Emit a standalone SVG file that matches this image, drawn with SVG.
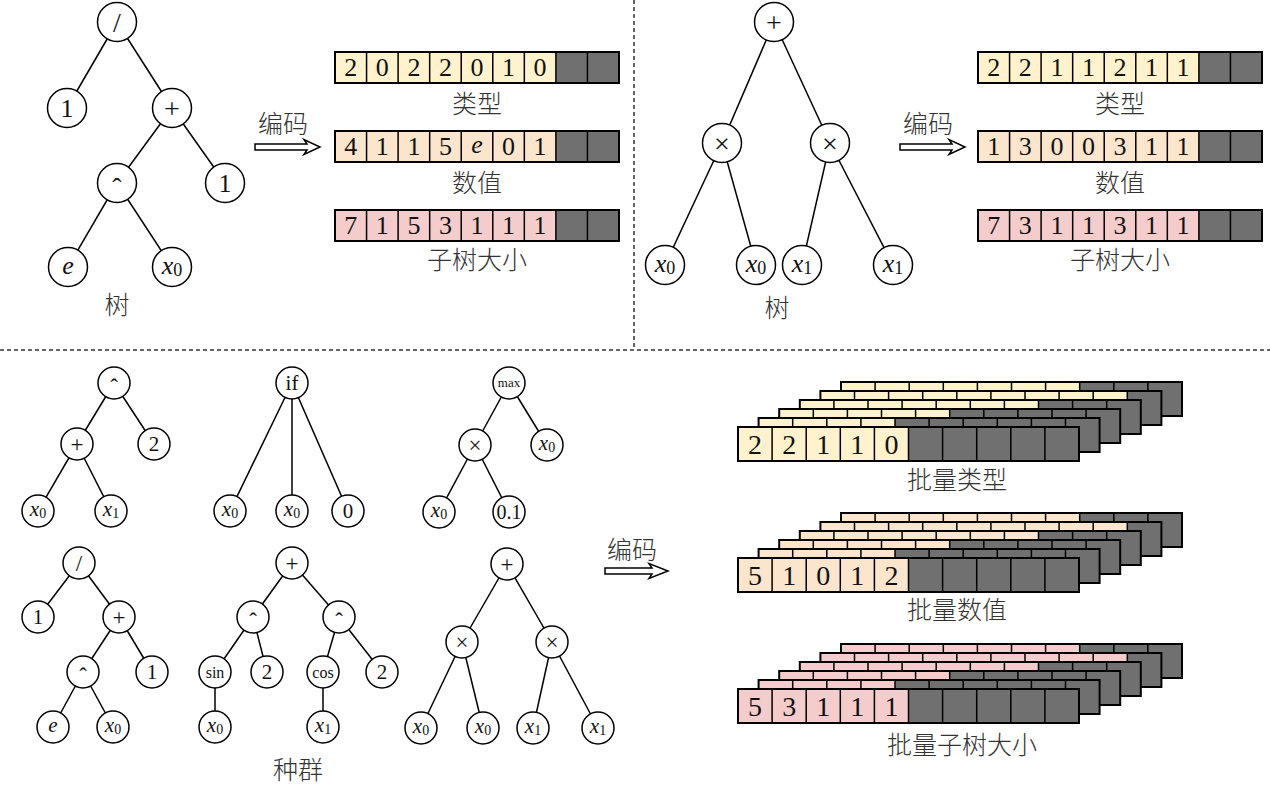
<svg xmlns="http://www.w3.org/2000/svg" xmlns:xlink="http://www.w3.org/1999/xlink" width="1270" height="790" viewBox="0 0 1270 790">
<style>
.n{fill:#fff;stroke:#000;stroke-width:1.5}
.e{stroke:#000;stroke-width:1.5;fill:none}
.t{font-family:"Liberation Serif","DejaVu Serif",serif;text-anchor:middle;dominant-baseline:central;fill:#111}
.t24{font-size:26px}
.t19{font-size:21px}
.t26{font-size:28px}
.op{font-size:28px}
.ops{font-size:23px}
.i{font-style:italic}
.cjk{font-family:"Noto Sans CJK SC","Noto Sans",sans-serif;font-size:25px;font-weight:300;text-anchor:middle;dominant-baseline:central;fill:#333}
.cy{fill:#FFF2CC}
.co{fill:#FCE5CD}
.cp{fill:#F4CCCC}
.cg{fill:#707070}
.dash{stroke:#333;stroke-width:1.5;stroke-dasharray:4 3;fill:none}
.arr{fill:#fff;stroke:#000;stroke-width:1.5;stroke-linejoin:miter}
</style>
<defs>
<g id="grid9">
<rect x="0" y="0" width="284" height="31" fill="none" stroke="#000" stroke-width="2"/>
<path d="M31.56,0V31M63.11,0V31M94.67,0V31M126.22,0V31M157.78,0V31M189.33,0V31M220.89,0V31M252.44,0V31" stroke="#000" stroke-width="1.5"/>
</g>
<g id="grid10">
<rect x="0" y="0" width="341" height="34" fill="none" stroke="#000" stroke-width="2"/>
<path d="M34.1,0V34M68.2,0V34M102.3,0V34M136.4,0V34M170.5,0V34M204.6,0V34M238.7,0V34M272.8,0V34M306.9,0V34" stroke="#000" stroke-width="1.5"/>
</g>
</defs>
<rect width="1270" height="790" fill="#fff"/>

<g id="separators">
<line class="dash" x1="634" y1="0" x2="634" y2="350"/>
<line class="dash" x1="0" y1="350" x2="1270" y2="350"/>
</g>

<g id="connectors" class="e">
<line x1="117" y1="22" x2="67" y2="108"/>
<line x1="117" y1="22" x2="172" y2="108"/>
<line x1="172" y1="108" x2="117" y2="183"/>
<line x1="172" y1="108" x2="225" y2="183"/>
<line x1="117" y1="183" x2="68" y2="267"/>
<line x1="117" y1="183" x2="172" y2="267"/>
<line x1="774" y1="22" x2="722" y2="143"/>
<line x1="774" y1="22" x2="830" y2="143"/>
<line x1="722" y1="143" x2="665" y2="265"/>
<line x1="722" y1="143" x2="756" y2="265"/>
<line x1="830" y1="143" x2="802" y2="265"/>
<line x1="830" y1="143" x2="893" y2="265"/>
<line x1="114" y1="383" x2="77" y2="444"/>
<line x1="114" y1="383" x2="154" y2="444"/>
<line x1="77" y1="444" x2="38" y2="511"/>
<line x1="77" y1="444" x2="111" y2="511"/>
<line x1="292" y1="383" x2="230" y2="511"/>
<line x1="292" y1="383" x2="292" y2="511"/>
<line x1="292" y1="383" x2="348" y2="511"/>
<line x1="509" y1="383" x2="475" y2="445"/>
<line x1="509" y1="383" x2="547" y2="445"/>
<line x1="475" y1="445" x2="439" y2="512"/>
<line x1="475" y1="445" x2="509" y2="512"/>
<line x1="79" y1="563" x2="38" y2="617"/>
<line x1="79" y1="563" x2="119" y2="617"/>
<line x1="119" y1="617" x2="83" y2="672"/>
<line x1="119" y1="617" x2="152" y2="672"/>
<line x1="83" y1="672" x2="53" y2="727"/>
<line x1="83" y1="672" x2="113" y2="727"/>
<line x1="292" y1="563" x2="253" y2="617"/>
<line x1="292" y1="563" x2="339" y2="617"/>
<line x1="253" y1="617" x2="215" y2="672"/>
<line x1="253" y1="617" x2="267" y2="672"/>
<line x1="339" y1="617" x2="323" y2="672"/>
<line x1="339" y1="617" x2="382" y2="672"/>
<line x1="215" y1="672" x2="215" y2="727"/>
<line x1="323" y1="672" x2="323" y2="727"/>
<line x1="507" y1="564" x2="462" y2="642"/>
<line x1="507" y1="564" x2="552" y2="642"/>
<line x1="462" y1="642" x2="421" y2="728"/>
<line x1="462" y1="642" x2="483" y2="728"/>
<line x1="552" y1="642" x2="533" y2="728"/>
<line x1="552" y1="642" x2="598" y2="728"/>
</g>

<g id="tl-div"><circle class="n" cx="117" cy="22" r="19.5"/><text class="t op" x="117" y="22">/</text></g>
<g id="tl-one-a"><circle class="n" cx="67" cy="108" r="19.5"/><text class="t t24" x="67" y="108">1</text></g>
<g id="tl-plus"><circle class="n" cx="172" cy="108" r="19.5"/><text class="t op" x="172" y="108">+</text></g>
<g id="tl-pow"><circle class="n" cx="117" cy="183" r="19.5"/><text class="t op" x="117" y="187">ˆ</text></g>
<g id="tl-one-b"><circle class="n" cx="225" cy="183" r="19.5"/><text class="t t24" x="225" y="183">1</text></g>
<g id="tl-e"><circle class="n" cx="68" cy="267" r="19.5"/><text class="t t24 i" x="68" y="265">e</text></g>
<g id="tl-x0"><circle class="n" cx="172" cy="267" r="19.5"/><text class="t t24" x="172" y="265"><tspan class="i">x</tspan><tspan font-size="18" dy="5">0</tspan></text></g>
<g id="tl-label"><text class="cjk" x="117" y="303">树</text></g>

<g id="tl-arrow">
<text class="cjk" x="283" y="122">编码</text>
<path class="arr" d="M255,144H307L304,139.5L320,147L304,154.5L307,150H255Z"/>
</g>

<g id="tl-type">
<rect class="cy" x="335" y="52" width="220.89" height="31"/>
<rect class="cg" x="555.89" y="52" width="63.11" height="31"/>
<use xlink:href="#grid9" href="#grid9" x="335" y="52"/>
<g class="t t24">
<text x="350.8" y="67.5">2</text><text x="382.3" y="67.5">0</text><text x="413.9" y="67.5">2</text><text x="445.5" y="67.5">2</text><text x="477" y="67.5">0</text><text x="508.6" y="67.5">1</text><text x="540.1" y="67.5">0</text>
</g>
<text class="cjk" x="477" y="102">类型</text>
</g>
<g id="tl-value">
<rect class="co" x="335" y="131" width="220.89" height="31"/>
<rect class="cg" x="555.89" y="131" width="63.11" height="31"/>
<use xlink:href="#grid9" href="#grid9" x="335" y="131"/>
<g class="t t24">
<text x="350.8" y="146.5">4</text><text x="382.3" y="146.5">1</text><text x="413.9" y="146.5">1</text><text x="445.5" y="146.5">5</text><text class="i" x="477" y="144.5">e</text><text x="508.6" y="146.5">0</text><text x="540.1" y="146.5">1</text>
</g>
<text class="cjk" x="477" y="181">数值</text>
</g>
<g id="tl-size">
<rect class="cp" x="335" y="210" width="220.89" height="31"/>
<rect class="cg" x="555.89" y="210" width="63.11" height="31"/>
<use xlink:href="#grid9" href="#grid9" x="335" y="210"/>
<g class="t t24">
<text x="350.8" y="225.5">7</text><text x="382.3" y="225.5">1</text><text x="413.9" y="225.5">5</text><text x="445.5" y="225.5">3</text><text x="477" y="225.5">1</text><text x="508.6" y="225.5">1</text><text x="540.1" y="225.5">1</text>
</g>
<text class="cjk" x="477" y="258">子树大小</text>
</g>

<g id="tr-plus"><circle class="n" cx="774" cy="22" r="19.5"/><text class="t op" x="774" y="22">+</text></g>
<g id="tr-mul-a"><circle class="n" cx="722" cy="143" r="19.5"/><text class="t op" x="722" y="143">×</text></g>
<g id="tr-mul-b"><circle class="n" cx="830" cy="143" r="19.5"/><text class="t op" x="830" y="143">×</text></g>
<g id="tr-x0-a"><circle class="n" cx="665" cy="265" r="19.5"/><text class="t t24" x="665" y="263"><tspan class="i">x</tspan><tspan font-size="18" dy="5">0</tspan></text></g>
<g id="tr-x0-b"><circle class="n" cx="756" cy="265" r="19.5"/><text class="t t24" x="756" y="263"><tspan class="i">x</tspan><tspan font-size="18" dy="5">0</tspan></text></g>
<g id="tr-x1-a"><circle class="n" cx="802" cy="265" r="19.5"/><text class="t t24" x="802" y="263"><tspan class="i">x</tspan><tspan font-size="18" dy="5">1</tspan></text></g>
<g id="tr-x1-b"><circle class="n" cx="893" cy="265" r="19.5"/><text class="t t24" x="893" y="263"><tspan class="i">x</tspan><tspan font-size="18" dy="5">1</tspan></text></g>
<g id="tr-label"><text class="cjk" x="777" y="306">树</text></g>

<g id="tr-arrow">
<text class="cjk" x="928" y="122">编码</text>
<path class="arr" d="M900,144H952L949,139.5L965,147L949,154.5L952,150H900Z"/>
</g>

<g id="tr-type">
<rect class="cy" x="978" y="52" width="220.89" height="31"/>
<rect class="cg" x="1198.89" y="52" width="63.11" height="31"/>
<use xlink:href="#grid9" href="#grid9" x="978" y="52"/>
<g class="t t24">
<text x="993.8" y="67.5">2</text><text x="1025.3" y="67.5">2</text><text x="1056.9" y="67.5">1</text><text x="1088.5" y="67.5">1</text><text x="1120" y="67.5">2</text><text x="1151.6" y="67.5">1</text><text x="1183.1" y="67.5">1</text>
</g>
<text class="cjk" x="1120" y="102">类型</text>
</g>
<g id="tr-value">
<rect class="co" x="978" y="131" width="220.89" height="31"/>
<rect class="cg" x="1198.89" y="131" width="63.11" height="31"/>
<use xlink:href="#grid9" href="#grid9" x="978" y="131"/>
<g class="t t24">
<text x="993.8" y="146.5">1</text><text x="1025.3" y="146.5">3</text><text x="1056.9" y="146.5">0</text><text x="1088.5" y="146.5">0</text><text x="1120" y="146.5">3</text><text x="1151.6" y="146.5">1</text><text x="1183.1" y="146.5">1</text>
</g>
<text class="cjk" x="1120" y="181">数值</text>
</g>
<g id="tr-size">
<rect class="cp" x="978" y="210" width="220.89" height="31"/>
<rect class="cg" x="1198.89" y="210" width="63.11" height="31"/>
<use xlink:href="#grid9" href="#grid9" x="978" y="210"/>
<g class="t t24">
<text x="993.8" y="225.5">7</text><text x="1025.3" y="225.5">3</text><text x="1056.9" y="225.5">1</text><text x="1088.5" y="225.5">1</text><text x="1120" y="225.5">3</text><text x="1151.6" y="225.5">1</text><text x="1183.1" y="225.5">1</text>
</g>
<text class="cjk" x="1120" y="258">子树大小</text>
</g>

<g id="p1-pow"><ellipse class="n" cx="114" cy="383" rx="16" ry="16"/><text class="t ops" x="114" y="387">ˆ</text></g>
<g id="p1-plus"><ellipse class="n" cx="77" cy="444" rx="16" ry="16"/><text class="t ops" x="77" y="444">+</text></g>
<g id="p1-two"><ellipse class="n" cx="154" cy="444" rx="16" ry="16"/><text class="t t19" x="154" y="444">2</text></g>
<g id="p1-x0"><ellipse class="n" cx="38" cy="511" rx="16" ry="16"/><text class="t t19" x="38" y="509"><tspan class="i">x</tspan><tspan font-size="14" dy="4">0</tspan></text></g>
<g id="p1-x1"><ellipse class="n" cx="111" cy="511" rx="16" ry="16"/><text class="t t19" x="111" y="509"><tspan class="i">x</tspan><tspan font-size="14" dy="4">1</tspan></text></g>

<g id="p2-if"><ellipse class="n" cx="292" cy="383" rx="16" ry="16"/><text class="t t19" x="292" y="383">if</text></g>
<g id="p2-x0-a"><ellipse class="n" cx="230" cy="511" rx="16" ry="16"/><text class="t t19" x="230" y="509"><tspan class="i">x</tspan><tspan font-size="14" dy="4">0</tspan></text></g>
<g id="p2-x0-b"><ellipse class="n" cx="292" cy="511" rx="16" ry="16"/><text class="t t19" x="292" y="509"><tspan class="i">x</tspan><tspan font-size="14" dy="4">0</tspan></text></g>
<g id="p2-zero"><ellipse class="n" cx="348" cy="511" rx="16" ry="16"/><text class="t t19" x="348" y="511">0</text></g>

<g id="p3-max"><ellipse class="n" cx="509" cy="383" rx="16" ry="16"/><text class="t" font-size="13" x="509" y="382">max</text></g>
<g id="p3-mul"><ellipse class="n" cx="475" cy="445" rx="16" ry="16"/><text class="t ops" x="475" y="445">×</text></g>
<g id="p3-x0-a"><ellipse class="n" cx="547" cy="445" rx="16" ry="16"/><text class="t t19" x="547" y="443"><tspan class="i">x</tspan><tspan font-size="14" dy="4">0</tspan></text></g>
<g id="p3-x0-b"><ellipse class="n" cx="439" cy="512" rx="16" ry="16"/><text class="t t19" x="439" y="510"><tspan class="i">x</tspan><tspan font-size="14" dy="4">0</tspan></text></g>
<g id="p3-c"><ellipse class="n" cx="509" cy="512" rx="16" ry="16"/><text class="t" font-size="20" x="509" y="512">0.1</text></g>

<g id="p4-div"><ellipse class="n" cx="79" cy="563" rx="16" ry="16"/><text class="t ops" x="79" y="563">/</text></g>
<g id="p4-one-a"><ellipse class="n" cx="38" cy="617" rx="16" ry="16"/><text class="t t19" x="38" y="617">1</text></g>
<g id="p4-plus"><ellipse class="n" cx="119" cy="617" rx="16" ry="16"/><text class="t ops" x="119" y="617">+</text></g>
<g id="p4-pow"><ellipse class="n" cx="83" cy="672" rx="16" ry="16"/><text class="t ops" x="83" y="676">ˆ</text></g>
<g id="p4-one-b"><ellipse class="n" cx="152" cy="672" rx="16" ry="16"/><text class="t t19" x="152" y="672">1</text></g>
<g id="p4-e"><ellipse class="n" cx="53" cy="727" rx="16" ry="16"/><text class="t t19 i" x="53" y="725">e</text></g>
<g id="p4-x0"><ellipse class="n" cx="113" cy="727" rx="16" ry="16"/><text class="t t19" x="113" y="725"><tspan class="i">x</tspan><tspan font-size="14" dy="4">0</tspan></text></g>

<g id="p5-plus"><ellipse class="n" cx="292" cy="563" rx="16" ry="16"/><text class="t ops" x="292" y="563">+</text></g>
<g id="p5-pow-a"><ellipse class="n" cx="253" cy="617" rx="16" ry="16"/><text class="t ops" x="253" y="621">ˆ</text></g>
<g id="p5-pow-b"><ellipse class="n" cx="339" cy="617" rx="16" ry="16"/><text class="t ops" x="339" y="621">ˆ</text></g>
<g id="p5-sin"><ellipse class="n" cx="215" cy="672" rx="16" ry="16"/><text class="t" font-size="16" x="215" y="672">sin</text></g>
<g id="p5-two-a"><ellipse class="n" cx="267" cy="672" rx="16" ry="16"/><text class="t t19" x="267" y="672">2</text></g>
<g id="p5-cos"><ellipse class="n" cx="323" cy="672" rx="16" ry="16"/><text class="t" font-size="16" x="323" y="672">cos</text></g>
<g id="p5-two-b"><ellipse class="n" cx="382" cy="672" rx="16" ry="16"/><text class="t t19" x="382" y="672">2</text></g>
<g id="p5-x0"><ellipse class="n" cx="215" cy="727" rx="16" ry="16"/><text class="t t19" x="215" y="725"><tspan class="i">x</tspan><tspan font-size="14" dy="4">0</tspan></text></g>
<g id="p5-x1"><ellipse class="n" cx="323" cy="727" rx="16" ry="16"/><text class="t t19" x="323" y="725"><tspan class="i">x</tspan><tspan font-size="14" dy="4">1</tspan></text></g>

<g id="p6-plus"><ellipse class="n" cx="507" cy="564" rx="16" ry="16"/><text class="t ops" x="507" y="564">+</text></g>
<g id="p6-mul-a"><ellipse class="n" cx="462" cy="642" rx="16" ry="16"/><text class="t ops" x="462" y="642">×</text></g>
<g id="p6-mul-b"><ellipse class="n" cx="552" cy="642" rx="16" ry="16"/><text class="t ops" x="552" y="642">×</text></g>
<g id="p6-x0-a"><ellipse class="n" cx="421" cy="728" rx="16" ry="16"/><text class="t t19" x="421" y="726"><tspan class="i">x</tspan><tspan font-size="14" dy="4">0</tspan></text></g>
<g id="p6-x0-b"><ellipse class="n" cx="483" cy="728" rx="16" ry="16"/><text class="t t19" x="483" y="726"><tspan class="i">x</tspan><tspan font-size="14" dy="4">0</tspan></text></g>
<g id="p6-x1-a"><ellipse class="n" cx="533" cy="728" rx="16" ry="16"/><text class="t t19" x="533" y="726"><tspan class="i">x</tspan><tspan font-size="14" dy="4">1</tspan></text></g>
<g id="p6-x1-b"><ellipse class="n" cx="598" cy="728" rx="16" ry="16"/><text class="t t19" x="598" y="726"><tspan class="i">x</tspan><tspan font-size="14" dy="4">1</tspan></text></g>

<g id="pop-label"><text class="cjk" x="298" y="768" font-size="26">种群</text></g>

<g id="bottom-arrow">
<text class="cjk" x="632" y="548">编码</text>
<path class="arr" d="M605,568H652L649,563.5L668,571L649,578.5L652,574H605Z"/>
</g>

<g id="batch-type">
<rect class="cy" x="841" y="382" width="238.7" height="34"/><rect class="cg" x="1079.7" y="382" width="102.3" height="34"/><use xlink:href="#grid10" href="#grid10" x="841" y="382"/>
<rect class="cy" x="820.4" y="391" width="306.9" height="34"/><rect class="cg" x="1127.3" y="391" width="34.1" height="34"/><use xlink:href="#grid10" href="#grid10" x="820.4" y="391"/>
<rect class="cy" x="799.8" y="400" width="238.7" height="34"/><rect class="cg" x="1038.5" y="400" width="102.3" height="34"/><use xlink:href="#grid10" href="#grid10" x="799.8" y="400"/>
<rect class="cy" x="779.2" y="409" width="170.5" height="34"/><rect class="cg" x="949.7" y="409" width="170.5" height="34"/><use xlink:href="#grid10" href="#grid10" x="779.2" y="409"/>
<rect class="cy" x="758.6" y="418" width="136.4" height="34"/><rect class="cg" x="895" y="418" width="204.6" height="34"/><use xlink:href="#grid10" href="#grid10" x="758.6" y="418"/>
<rect class="cy" x="738" y="427" width="170.5" height="34"/><rect class="cg" x="908.5" y="427" width="170.5" height="34"/><use xlink:href="#grid10" href="#grid10" x="738" y="427"/>
<g class="t t26">
<text x="755.05" y="444">2</text><text x="789.15" y="444">2</text><text x="823.25" y="444">1</text><text x="857.35" y="444">1</text><text x="891.45" y="444">0</text>
</g>
<text class="cjk" x="957" y="478">批量类型</text>
</g>

<g id="batch-value">
<rect class="co" x="841" y="513" width="238.7" height="34"/><rect class="cg" x="1079.7" y="513" width="102.3" height="34"/><use xlink:href="#grid10" href="#grid10" x="841" y="513"/>
<rect class="co" x="820.4" y="522" width="306.9" height="34"/><rect class="cg" x="1127.3" y="522" width="34.1" height="34"/><use xlink:href="#grid10" href="#grid10" x="820.4" y="522"/>
<rect class="co" x="799.8" y="531" width="238.7" height="34"/><rect class="cg" x="1038.5" y="531" width="102.3" height="34"/><use xlink:href="#grid10" href="#grid10" x="799.8" y="531"/>
<rect class="co" x="779.2" y="540" width="170.5" height="34"/><rect class="cg" x="949.7" y="540" width="170.5" height="34"/><use xlink:href="#grid10" href="#grid10" x="779.2" y="540"/>
<rect class="co" x="758.6" y="549" width="136.4" height="34"/><rect class="cg" x="895" y="549" width="204.6" height="34"/><use xlink:href="#grid10" href="#grid10" x="758.6" y="549"/>
<rect class="co" x="738" y="558" width="170.5" height="34"/><rect class="cg" x="908.5" y="558" width="170.5" height="34"/><use xlink:href="#grid10" href="#grid10" x="738" y="558"/>
<g class="t t26">
<text x="755.05" y="575">5</text><text x="789.15" y="575">1</text><text x="823.25" y="575">0</text><text x="857.35" y="575">1</text><text x="891.45" y="575">2</text>
</g>
<text class="cjk" x="957" y="608">批量数值</text>
</g>

<g id="batch-size">
<rect class="cp" x="841" y="644" width="238.7" height="34"/><rect class="cg" x="1079.7" y="644" width="102.3" height="34"/><use xlink:href="#grid10" href="#grid10" x="841" y="644"/>
<rect class="cp" x="820.4" y="653" width="306.9" height="34"/><rect class="cg" x="1127.3" y="653" width="34.1" height="34"/><use xlink:href="#grid10" href="#grid10" x="820.4" y="653"/>
<rect class="cp" x="799.8" y="662" width="238.7" height="34"/><rect class="cg" x="1038.5" y="662" width="102.3" height="34"/><use xlink:href="#grid10" href="#grid10" x="799.8" y="662"/>
<rect class="cp" x="779.2" y="671" width="170.5" height="34"/><rect class="cg" x="949.7" y="671" width="170.5" height="34"/><use xlink:href="#grid10" href="#grid10" x="779.2" y="671"/>
<rect class="cp" x="758.6" y="680" width="136.4" height="34"/><rect class="cg" x="895" y="680" width="204.6" height="34"/><use xlink:href="#grid10" href="#grid10" x="758.6" y="680"/>
<rect class="cp" x="738" y="689" width="170.5" height="34"/><rect class="cg" x="908.5" y="689" width="170.5" height="34"/><use xlink:href="#grid10" href="#grid10" x="738" y="689"/>
<g class="t t26">
<text x="755.05" y="706">5</text><text x="789.15" y="706">3</text><text x="823.25" y="706">1</text><text x="857.35" y="706">1</text><text x="891.45" y="706">1</text>
</g>
<text class="cjk" x="962" y="743">批量子树大小</text>
</g>
</svg>
